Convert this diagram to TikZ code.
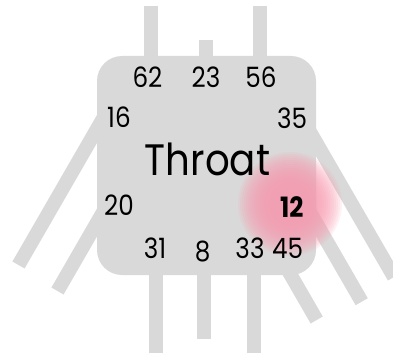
\documentclass[tikz,border=0pt]{standalone}
\usepackage{fontspec}
\setmainfont{Poppins}[FakeStretch=0.88]
\definecolor{boxgray}{HTML}{D9D9D9}
\definecolor{glowpink}{HTML}{F79DB1}
\begin{document}
\begin{tikzpicture}[x=1pt,y=-1pt,
  bar/.style={boxgray, line width=14pt, line cap=butt},
  num/.style={font=\fontsize{28}{28}\selectfont, inner sep=0pt},
  title/.style={font=\fontsize{44}{44}\selectfont, inner sep=0pt}]
\useasboundingbox (0,0) rectangle (393,353);
% stub coordinates
\coordinate (t1a) at (151,6);   \coordinate (t1b) at (151,80);
\coordinate (t2a) at (205.5,40);\coordinate (t2b) at (205.5,80);
\coordinate (t3a) at (260,6);   \coordinate (t3b) at (260,80);
\coordinate (b1a) at (156,250); \coordinate (b1b) at (156,353);
\coordinate (b2a) at (204,250); \coordinate (b2b) at (204,339);
\coordinate (b3a) at (254,250); \coordinate (b3b) at (254,353);
\coordinate (l1a) at (108.5,109); \coordinate (l1b) at (18.5,265);
\coordinate (l2a) at (132.5,161); \coordinate (l2b) at (57.5,291);
\coordinate (r1a) at (291,99);    \coordinate (r1b) at (394,277);
\coordinate (r2a) at (286.7,171.8); \coordinate (r2b) at (361.7,301.7);
\coordinate (r3a) at (241.7,190); \coordinate (r3b) at (316.7,320);
\foreach \s in {t1,t2,t3,b1,b2,b3,l1,l2,r1,r2,r3}
  \draw[bar] (\s a) -- (\s b);
% box
\node[fill=boxgray, rounded corners=25pt, minimum width=219pt, minimum height=219pt, inner sep=0pt] (box) at (206.5,165.5) {};
% glow: stacked translucent discs
\coordinate (glow) at (290,204);
\foreach \r in {22,24,...,52}
  \fill[glowpink, fill opacity=0.135] (glow) circle (\r pt);
% labels
\node[num] (n62) at (147.5,77) {62};
\node[num] (n23) at (206,77) {23};
\node[num] (n56) at (261,77) {56};
\node[num] (n16) at (119,117.5) {16};
\node[num] (n35) at (292,118) {35};
\node[title] (throat) at (207.5,159) {Throat};
\node[num] (n20) at (119,205) {20};
\node[num, font=\fontsize{28}{28}\selectfont\bfseries] (n12) at (291.7,206.7) {12};
\node[num] (n31) at (155,248) {31};
\node[num] (n8) at (202.7,251.7) {8};
\node[num] (n33) at (250,248) {33};
\node[num] (n45) at (287.5,248) {45};
\end{tikzpicture}
\end{document}
